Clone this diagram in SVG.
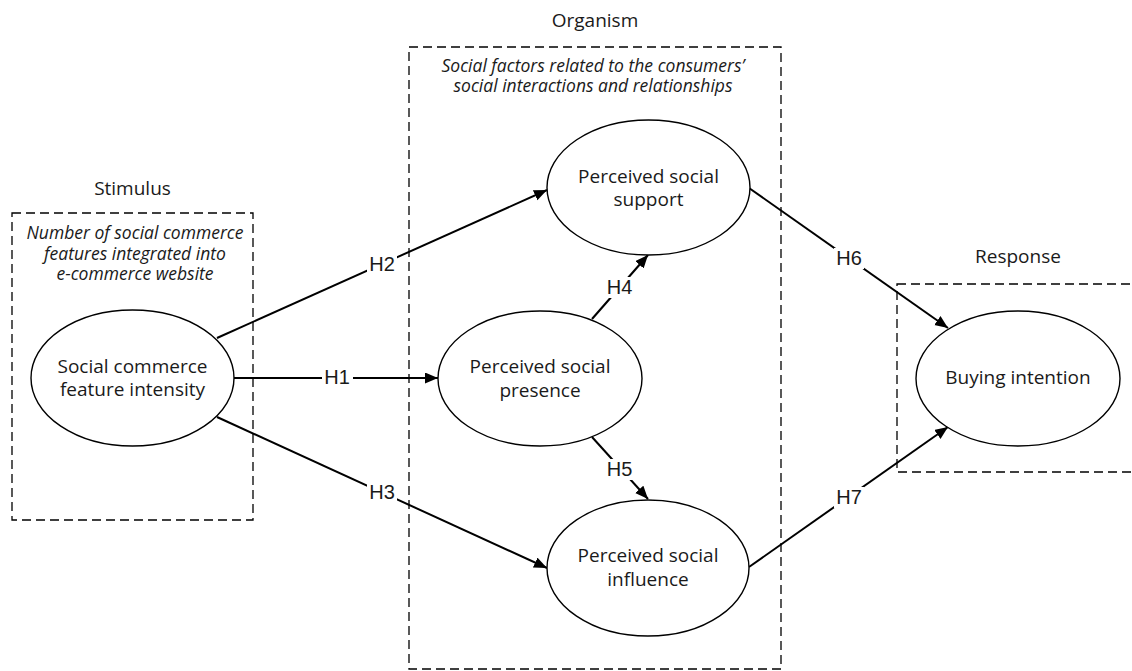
<svg xmlns="http://www.w3.org/2000/svg" width="1132" height="671" viewBox="0 0 1132 671">
  <style>
    .frame { fill: none; stroke: #000; stroke-width: 1.3; stroke-dasharray: 9 5; }
    .node { fill: #fff; stroke: #000; stroke-width: 1.4; }
    .title { font-family: "Open Sans", "Liberation Sans", sans-serif; font-size: 19px; fill: #1a1a1a; text-anchor: middle; }
    .note { font-family: "Open Sans", "Liberation Sans", sans-serif; font-style: italic; font-size: 17.5px; fill: #1a1a1a; text-anchor: middle; }
    .label { font-family: "Open Sans", "Liberation Sans", sans-serif; font-size: 19px; fill: #1a1a1a; text-anchor: middle; }
    .edge { fill: none; stroke: #000; stroke-width: 2; marker-end: url(#arrow); }
    .tag { font-family: "Liberation Sans", Arial, sans-serif; font-size: 20px; fill: #1a1a1a; text-anchor: middle; }
    .tagbg { fill: #fff; }
  </style>
  <defs>
    <marker id="arrow" markerUnits="userSpaceOnUse" markerWidth="14" markerHeight="12" refX="13" refY="5.5" orient="auto">
      <path d="M0,0 L13,5.5 L0,11 Z" fill="#000"/>
    </marker>
  </defs>
  <rect width="1132" height="671" fill="#fff"/>

  <!-- Stage frames -->
  <g id="stimulus">
    <rect class="frame" x="12" y="213" width="241" height="307"/>
    <text class="title" x="132.5" y="195">Stimulus</text>
    <text class="note" x="135" y="239">Number of social commerce</text>
    <text class="note" x="135" y="260">features integrated into</text>
    <text class="note" x="135" y="280">e-commerce website</text>
  </g>
  <g id="organism">
    <rect class="frame" x="409" y="47" width="372" height="622"/>
    <text class="title" x="595" y="27">Organism</text>
    <text class="note" x="593" y="72">Social factors related to the consumers’</text>
    <text class="note" x="593" y="92">social interactions and relationships</text>
  </g>
  <g id="response">
    <rect class="frame" x="897" y="284" width="240" height="188"/>
    <text class="title" x="1018" y="263">Response</text>
  </g>

  <!-- Connectors -->
  <g id="connectors">
    <line class="edge" x1="234" y1="378" x2="438" y2="378"/>
    <line class="edge" x1="217" y1="338" x2="547" y2="190"/>
    <line class="edge" x1="217" y1="417" x2="547" y2="568"/>
    <line class="edge" x1="592" y1="319" x2="648" y2="255"/>
    <line class="edge" x1="592" y1="437" x2="648" y2="499"/>
    <line class="edge" x1="749" y1="188" x2="948" y2="328"/>
    <line class="edge" x1="749" y1="567" x2="948" y2="427"/>

    <rect class="tagbg" x="322" y="367" width="31" height="21"/>
    <text class="tag" x="337" y="384">H1</text>
    <rect class="tagbg" x="367" y="253" width="30" height="21"/>
    <text class="tag" x="382" y="270.5">H2</text>
    <rect class="tagbg" x="367" y="482" width="30" height="21"/>
    <text class="tag" x="382" y="499">H3</text>
    <rect class="tagbg" x="604" y="277" width="31" height="21"/>
    <text class="tag" x="619.5" y="294">H4</text>
    <rect class="tagbg" x="604" y="459" width="31" height="21"/>
    <text class="tag" x="619.5" y="476">H5</text>
    <rect class="tagbg" x="834" y="248" width="30" height="21"/>
    <text class="tag" x="849" y="265">H6</text>
    <rect class="tagbg" x="834" y="487" width="30" height="21"/>
    <text class="tag" x="849" y="504">H7</text>
  </g>

  <!-- Constructs -->
  <g id="sc-feature-intensity">
    <ellipse class="node" cx="132.5" cy="378" rx="101.5" ry="68"/>
    <text class="label" x="132.5" y="373">Social commerce</text>
    <text class="label" x="132.5" y="396">feature intensity</text>
  </g>
  <g id="social-support">
    <ellipse class="node" cx="648.5" cy="187.5" rx="101.5" ry="67.5"/>
    <text class="label" x="648.5" y="183">Perceived social</text>
    <text class="label" x="648.5" y="206">support</text>
  </g>
  <g id="social-presence">
    <ellipse class="node" cx="540" cy="378.5" rx="102" ry="67.5"/>
    <text class="label" x="540" y="372.5">Perceived social</text>
    <text class="label" x="540" y="396.5">presence</text>
  </g>
  <g id="social-influence">
    <ellipse class="node" cx="648" cy="568" rx="101" ry="68"/>
    <text class="label" x="648" y="562">Perceived social</text>
    <text class="label" x="648" y="585.5">influence</text>
  </g>
  <g id="buying-intention">
    <ellipse class="node" cx="1018" cy="378.5" rx="102" ry="67.5"/>
    <text class="label" x="1018" y="384">Buying intention</text>
  </g>
</svg>
